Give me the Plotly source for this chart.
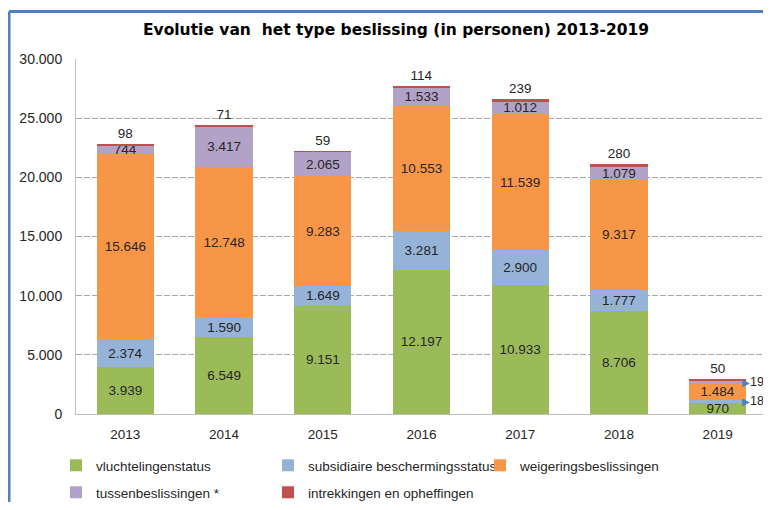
import plotly.graph_objects as go

years = ["2013", "2014", "2015", "2016", "2017", "2018", "2019"]
vluchtelingenstatus = [3939, 6549, 9151, 12197, 10933, 8706, 970]
subsidiaire = [2374, 1590, 1649, 3281, 2900, 1777, 188]
weigering = [15646, 12748, 9283, 10553, 11539, 9317, 1484]
tussen = [744, 3417, 2065, 1533, 1012, 1079, 190]
intrekking = [98, 71, 59, 114, 239, 280, 50]

series = [
    ("vluchtelingenstatus", vluchtelingenstatus, "#9BBB59", "legend"),
    ("subsidiaire beschermingsstatus", subsidiaire, "#95B3D7", "legend"),
    ("weigeringsbeslissingen", weigering, "#F79646", "legend"),
    ("tussenbeslissingen *", tussen, "#B3A2C7", "legend2"),
    ("intrekkingen en opheffingen", intrekking, "#C0504D", "legend2"),
]

CALLOUT_MAX = 300  # small inner segments get a side callout
LABEL_FONT = dict(family="Liberation Sans, Arial, sans-serif", size=13.5, color="#262626")
CALLOUT_FONT = dict(family="Liberation Sans, Arial, sans-serif", size=12.5, color="#262626")


def fmt(v):
    return f"{v:,}".replace(",", ".")


# page has an 8px body margin; work in page coordinates and convert
OFF = 8
W, H = 771 - OFF, 510 - 2 * OFF
plot_l, plot_r, plot_t, plot_b = 76 - OFF, 767 - OFF, 59 - OFF, 414 - OFF
ml, mr, mt, mb = plot_l, W - plot_r, plot_t, H - plot_b
pw, ph = plot_r - plot_l, plot_b - plot_t


def px_x(page_x):
    return (page_x - OFF - ml) / pw


def px_y(page_y):
    return (plot_b - (page_y - OFF)) / ph


fig = go.Figure()
annotations = []
cum = [0] * len(years)
for idx, (name, vals, color, leg) in enumerate(series):
    last = idx == len(series) - 1
    texts = []
    for i, v in enumerate(vals):
        if not last and v < CALLOUT_MAX:
            texts.append("")
            annotations.append(dict(
                x=i, y=cum[i] + v / 2, xref="x", yref="y",
                text="<span style='color:#4F81BD;font-size:10px'>▶</span>" + fmt(v),
                showarrow=False, xanchor="left", yanchor="middle",
                xshift=23, font=CALLOUT_FONT, borderpad=0,
            ))
        else:
            texts.append(fmt(v))
    fig.add_trace(go.Bar(
        x=years, y=vals, name=name, legend=leg,
        marker=dict(color=color, line=dict(width=0)),
        text=texts, texttemplate="%{text}",
        textposition="outside" if last else "inside",
        insidetextanchor="middle", textangle=0,
        textfont=LABEL_FONT, outsidetextfont=LABEL_FONT, insidetextfont=LABEL_FONT,
        cliponaxis=False, hoverinfo="x+y+name",
    ))
    cum = [c + v for c, v in zip(cum, vals)]

# blue document frame
shapes = [
    dict(type="line", xref="paper", yref="paper", x0=px_x(9), x1=px_x(780),
         y0=px_y(11.5), y1=px_y(11.5), line=dict(color="#4F81BD", width=3)),
    dict(type="line", xref="paper", yref="paper", x0=px_x(9), x1=px_x(9),
         y0=px_y(11.5), y1=px_y(520), line=dict(color="#4F81BD", width=3)),
]

legend_common = dict(orientation="h", xanchor="left", yanchor="top",
                     entrywidth=167, entrywidthmode="pixels", traceorder="normal",
                     font=dict(size=13.5, color="#262626"), bgcolor="rgba(0,0,0,0)",
                     itemclick=False)

fig.update_layout(
    width=W, height=H,
    margin=dict(l=ml, r=mr, t=mt, b=mb, autoexpand=False),
    barmode="stack", bargap=0.42,
    separators=",.",
    paper_bgcolor="white", plot_bgcolor="white",
    font=dict(family="Liberation Sans, Arial, sans-serif", size=13, color="#262626"),
    title=dict(text="<b>Evolutie van  het type beslissing (in personen) 2013-2019</b>",
               x=(396 - OFF) / W, xanchor="center", y=1 - (30 - OFF) / H, yanchor="middle",
               xref="container", yref="container",
               font=dict(family="DejaVu Sans, Verdana, sans-serif", size=15.5, color="#000000")),
    xaxis=dict(type="category", range=[-0.5, len(years) - 0.5], autorange=False,
               showgrid=False, showline=True, linecolor="#BFBFBF",
               linewidth=1, ticks="", tickfont=dict(size=13.5, color="#262626"),
               ticklabelstandoff=8),
    yaxis=dict(range=[0, 30000], autorange=False, dtick=5000, tickformat=",d", showgrid=True,
               gridcolor="#A6A6A6", griddash="6px,2px", gridwidth=1,
               showline=True, linecolor="#BFBFBF", linewidth=1, ticks="",
               zeroline=False, tickfont=dict(size=14, color="#262626"),
               ticklabelstandoff=10),
    legend=dict(x=px_x(56), y=px_y(450), **legend_common),
    legend2=dict(x=px_x(56), y=px_y(477), **legend_common),
    uniformtext=dict(minsize=13.5, mode="show"),
    annotations=annotations,
    shapes=shapes,
)

fig.write_html("out.html")
